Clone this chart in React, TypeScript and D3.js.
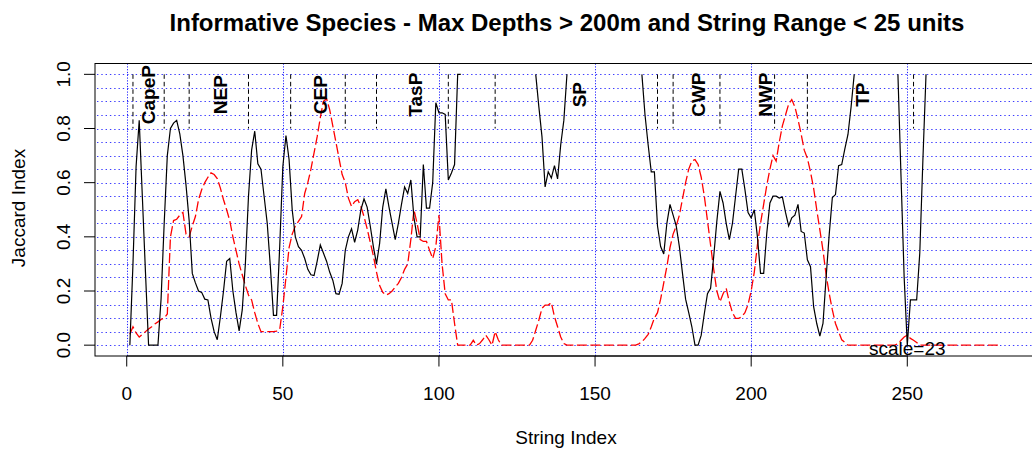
import React from "react";
import * as d3 from "d3";

const TITLE = "Informative Species - Max Depths > 200m and String Range < 25 units";
const X_LABEL = "String Index";
const Y_LABEL = "Jaccard Index";
const X_TICKS = [0, 50, 100, 150, 200, 250];
const Y_TICKS = [0, 0.2, 0.4, 0.6, 0.8, 1.0];
const Y_TICK_LABELS = ["0.0", "0.2", "0.4", "0.6", "0.8", "1.0"];
const X_GRID = [0, 50, 100, 150, 200, 250];
const Y_GRID = [0, 0.05, 0.1, 0.15, 0.2, 0.25, 0.3, 0.35, 0.4, 0.45, 0.5, 0.55, 0.6, 0.65, 0.7, 0.75, 0.8, 0.85, 0.9, 0.95, 1.0];
const REGION_LINES = [2, 12, 20, 39, 52.5, 70, 80, 103, 118, 170, 175, 190, 207.5, 218, 252];
const REGION_NAMES = ["CapeP", "NEP", "CEP", "TasP", "SP", "CWP", "NWP", "TP"];
const REGION_LABEL_X = [6.9, 29.9, 62.1, 92.5, 144.9, 183.3, 204.6, 235.8];
const SCALE_NOTE = "scale=23";
const SCALE_NOTE_X = 250;

// black solid series, string index 1..280 (null = no value)
const jaccard: (number | null)[] = [
  0, 0.30, 0.66, 0.83, 0.55, 0.27, 0, 0, 0, 0,
  0.17, 0.45, 0.70, 0.80, 0.82, 0.83, 0.78, 0.70, 0.59, 0.46,
  0.265, 0.23, 0.20, 0.195, 0.17, 0.167, 0.10, 0.05, 0.02, 0.105,
  0.20, 0.31, 0.32, 0.20, 0.12, 0.053, 0.13, 0.30, 0.55, 0.72,
  0.79, 0.67, 0.65, 0.55, 0.45, 0.29, 0.11, 0.11, 0.364, 0.66,
  0.774, 0.685, 0.50, 0.40, 0.364, 0.35, 0.32, 0.28, 0.26, 0.257,
  0.31, 0.37, 0.34, 0.31, 0.27, 0.24, 0.19, 0.188, 0.228, 0.35,
  0.40, 0.43, 0.38, 0.426, 0.50, 0.54, 0.51, 0.44, 0.364, 0.30,
  0.376, 0.51, 0.577, 0.51, 0.45, 0.39, 0.45, 0.52, 0.584, 0.56,
  0.61, 0.47, 0.40, 0.40, 0.667, 0.506, 0.506, 0.60, 0.895, 0.858,
  0.858, 0.852, 0.61, 0.636, 0.667, 1.0, 1.0, null, null, null,
  null, null, null, null, null, null, null, null, null, null,
  null, null, null, null, null, null, null, null, null, null,
  1.0, 0.88, 0.77, 0.584, 0.64, 0.617, 0.663, 0.614, 0.74, 0.83,
  1.0, null, null, null, null, null, null, null, null, null,
  null, null, null, null, null, null, null, null, null, null,
  null, null, null, null, 1.0, 0.85, 0.74, 0.64, 0.64, 0.44,
  0.364, 0.337, 0.45, 0.52, 0.48, 0.44, 0.364, 0.265, 0.17, 0.12,
  0.068, 0, 0, 0.037, 0.117, 0.19, 0.21, 0.327, 0.457, 0.568,
  0.525, 0.45, 0.39, 0.45, 0.55, 0.65, 0.65, 0.574, 0.49, 0.47,
  0.50, 0.40, 0.265, 0.265, 0.414, 0.525, 0.55, 0.55, 0.543, 0.547,
  0.49, 0.44, 0.47, 0.48, 0.52, 0.42, 0.414, 0.315, 0.29, 0.142,
  0.08, 0.033, 0.08, 0.25, 0.41, 0.545, 0.556, 0.663, 0.667, 0.725,
  0.778, 0.88, 1.0, null, null, null, null, null, null, null,
  null, null, null, null, null, null, 1.0, 0.62, 0.25, 0,
  0.167, 0.167, 0.167, 0.34, 0.685, 1.0, null, null, null, null,
  null, null, null, null, null, null, null, null, null, null,
  null, null, null, null, null, null, null, null, null, null,
];

// red dashed series, string index 1..280
const signal: number[] = [
  0.04, 0.068, 0.045, 0.03, 0.04, 0.05, 0.06, 0.068, 0.078, 0.086,
  0.095, 0.10, 0.115, 0.40, 0.46, 0.465, 0.48, 0.49, 0.41, 0.40,
  0.44, 0.475, 0.537, 0.574, 0.60, 0.62, 0.636, 0.63, 0.615, 0.58,
  0.537, 0.50, 0.46, 0.40, 0.35, 0.30, 0.26, 0.22, 0.185, 0.167,
  0.12, 0.08, 0.05, 0.05, 0.05, 0.05, 0.05, 0.052, 0.058, 0.142,
  0.25, 0.36, 0.41, 0.44, 0.457, 0.475, 0.56, 0.60, 0.65, 0.71,
  0.77, 0.84, 0.90, 0.91, 0.87, 0.81, 0.75, 0.69, 0.63, 0.60,
  0.543, 0.512, 0.53, 0.537, 0.512, 0.475, 0.43, 0.38, 0.33, 0.27,
  0.22, 0.195, 0.185, 0.19, 0.20, 0.215, 0.228, 0.25, 0.28, 0.30,
  0.39, 0.50, 0.45, 0.39, 0.383, 0.383, 0.35, 0.32, 0.364, 0.48,
  0.30, 0.19, 0.167, 0.167, 0.08, 0, 0, 0, 0, 0,
  0.018, 0, 0.006, 0.02, 0.037, 0.02, 0, 0.05, 0.02, 0,
  0, 0, 0, 0, 0, 0, 0, 0, 0, 0.018,
  0.055, 0.093, 0.136, 0.148, 0.148, 0.157, 0.105, 0.068, 0.03, 0.006,
  0, 0, 0, 0, 0, 0, 0, 0, 0, 0,
  0, 0, 0, 0, 0, 0, 0, 0, 0, 0,
  0, 0, 0, 0.005, 0.012, 0.025, 0.04, 0.068, 0.10, 0.12,
  0.17, 0.23, 0.29, 0.36, 0.41, 0.44, 0.48, 0.54, 0.60, 0.65,
  0.68, 0.685, 0.667, 0.62, 0.55, 0.46, 0.37, 0.28, 0.20, 0.16,
  0.19, 0.21, 0.16, 0.12, 0.099, 0.099, 0.105, 0.12, 0.15, 0.20,
  0.27, 0.37, 0.45, 0.52, 0.59, 0.65, 0.70, 0.68, 0.75, 0.81,
  0.85, 0.89, 0.907, 0.88, 0.833, 0.78, 0.72, 0.69, 0.64, 0.58,
  0.50, 0.426, 0.35, 0.26, 0.19, 0.13, 0.08, 0.05, 0.02, 0.01,
  0, 0, 0, 0, 0, 0, 0, 0, 0, 0,
  0, 0, 0, 0, 0, 0, 0.005, 0.018, 0.03, 0.037,
  0.025, 0.018, 0.01, 0, 0, 0, 0, 0, 0, 0,
  0, 0, 0, 0, 0, 0, 0, 0, 0, 0,
  0, 0, 0, 0, 0, 0, 0, 0, 0, 0,
];

const W = 1032;
const H = 450;
const FONT = "'Liberation Sans', Arial, Helvetica, sans-serif";

export default function App() {
  const n = signal.length;
  const x = d3.scaleLinear().domain([1 - 0.04 * (n - 1), n + 0.04 * (n - 1)]).range([95, 1035.8]);
  const y = d3.scaleLinear().domain([-0.04, 1.04]).range([356, 63.5]);
  const left = x.range()[0];
  const right = x.range()[1];
  const top = y.range()[1];
  const bottom = y.range()[0];

  const blackPts = jaccard.map((v, i) => ({ i: i + 1, v }));
  const redPts = signal.map((v, i) => ({ i: i + 1, v }));

  const blackLine = d3
    .line<{ i: number; v: number | null }>()
    .defined((d) => d.v !== null)
    .x((d) => x(d.i))
    .y((d) => y(d.v as number));
  const redLine = d3
    .line<{ i: number; v: number }>()
    .x((d) => x(d.i))
    .y((d) => y(d.v));

  const cap = 0.358;

  return (
    <svg
      width={W}
      height={H}
      style={{ position: "absolute", left: 0, top: 0, background: "#fff" }}
      fontFamily={FONT}
    >
      <rect x={0} y={0} width={W} height={H} fill="#fff" />
      <defs>
        <clipPath id="plotClip">
          <rect x={left} y={top} width={right - left} height={bottom - top} />
        </clipPath>
      </defs>

      {/* grid */}
      <g clipPath="url(#plotClip)" fill="none">
        {Y_GRID.map((g) => (
          <line
            key={"h" + g}
            x1={left + 2}
            x2={right}
            y1={Math.round(y(g)) + 0.5}
            y2={Math.round(y(g)) + 0.5}
            stroke="#3c3cff"
            strokeWidth={1}
            strokeDasharray="1.4,2.9"
          />
        ))}
        {X_GRID.map((g) => (
          <line
            key={"v" + g}
            x1={Math.round(x(g)) + 0.5}
            x2={Math.round(x(g)) + 0.5}
            y1={top}
            y2={bottom}
            stroke="#2020ff"
            strokeWidth={1}
            strokeDasharray="1.2,1.6"
          />
        ))}
      </g>

      {/* region boundaries */}
      <g stroke="#000" strokeWidth={1} strokeDasharray="4.5,3">
        {REGION_LINES.map((r) => (
          <line key={"r" + r} x1={x(r)} x2={x(r)} y1={y(1.0)} y2={y(0.8)} />
        ))}
      </g>

      {/* series */}
      <g clipPath="url(#plotClip)">
        <path d={redLine(redPts) || ""} fill="none" stroke="#ff0000" strokeWidth={1.3} strokeDasharray="10,3.5" />
        <path d={blackLine(blackPts) || ""} fill="none" stroke="#000" strokeWidth={1.2} />
      </g>

      {/* region labels */}
      {REGION_NAMES.map((name, k) => (
        <text
          key={name}
          transform={`translate(${x(REGION_LABEL_X[k]) + 18 * cap},${y(0.925)}) rotate(-90)`}
          textAnchor="middle"
          fontSize={19}
          fontWeight="bold"
          fill="#000"
        >
          {name}
        </text>
      ))}

      <text x={x(SCALE_NOTE_X)} y={355} textAnchor="middle" fontSize={19} fill="#000">
        {SCALE_NOTE}
      </text>

      {/* box */}
      <rect x={left} y={top} width={right - left} height={bottom - top} fill="none" stroke="#000" strokeWidth={1} />

      {/* x axis */}
      <g stroke="#000" strokeWidth={1}>
        <line x1={x(X_TICKS[0])} x2={x(X_TICKS[X_TICKS.length - 1])} y1={bottom} y2={bottom} />
        {X_TICKS.map((t) => (
          <line key={"xt" + t} x1={x(t)} x2={x(t)} y1={bottom} y2={bottom + 10.5} />
        ))}
      </g>
      {X_TICKS.map((t) => (
        <text key={"xl" + t} x={x(t)} y={400} textAnchor="middle" fontSize={19} fill="#000">
          {t}
        </text>
      ))}

      {/* y axis */}
      <g stroke="#000" strokeWidth={1}>
        {Y_TICKS.map((t) => (
          <line key={"yt" + t} x1={left - 11} x2={left} y1={y(t)} y2={y(t)} />
        ))}
      </g>
      {Y_TICKS.map((t, k) => (
        <text
          key={"yl" + t}
          transform={`translate(${63 + 19 * cap},${y(t)}) rotate(-90)`}
          textAnchor="middle"
          fontSize={19}
          fill="#000"
        >
          {Y_TICK_LABELS[k]}
        </text>
      ))}

      {/* titles */}
      <text x={567} y={30.5} textAnchor="middle" fontSize={24} fontWeight="bold" fill="#000">
        {TITLE}
      </text>
      <text x={566} y={444} textAnchor="middle" fontSize={19} fill="#000">
        {X_LABEL}
      </text>
      <text
        transform={`translate(${18 + 19 * cap},${208}) rotate(-90)`}
        textAnchor="middle"
        fontSize={19}
        fill="#000"
      >
        {Y_LABEL}
      </text>
    </svg>
  );
}
